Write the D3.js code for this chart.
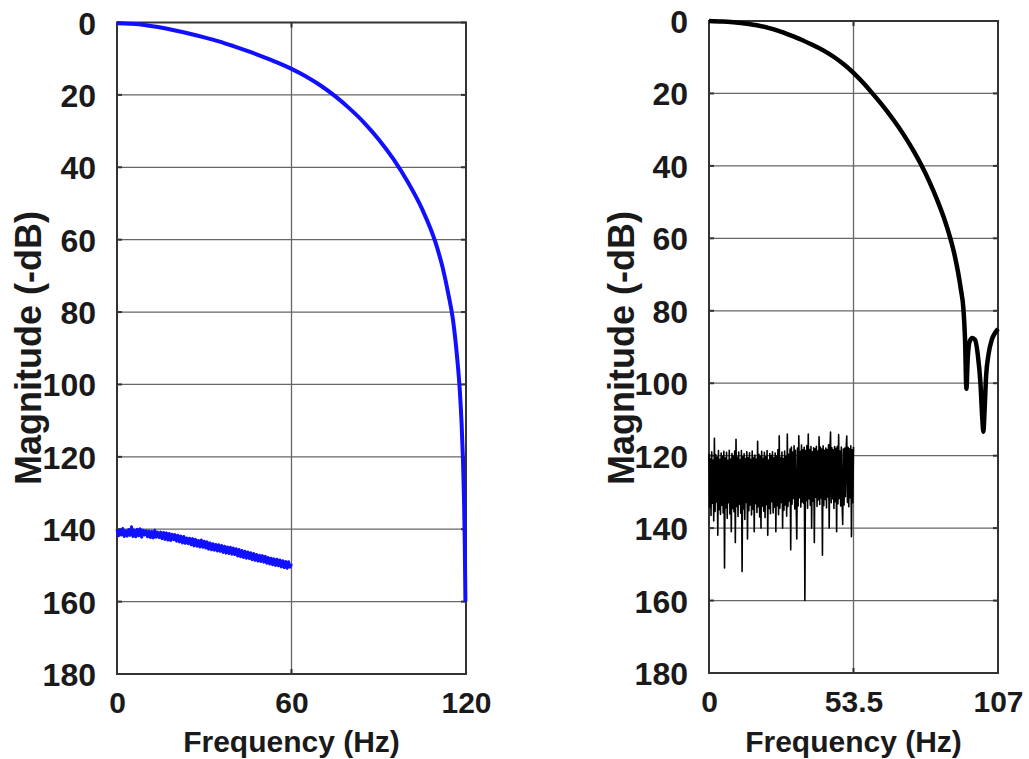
<!DOCTYPE html>
<html>
<head>
<meta charset="utf-8">
<script src="https://cdn.jsdelivr.net/npm/d3@7"></script>
<style>
  body { margin: 0; background: #fff; }
  text { font-family: "Liberation Sans", Arial, sans-serif; font-weight: bold; fill: #1a1a1a; }
</style>
</head>
<body>
<div id="chart"></div>
<script>
// Setting up sizes
const width = 1029;
const height = 759;

// Shared magnitude axis
const yTicks = [0, 20, 40, 60, 80, 100, 120, 140, 160, 180];

// Left panel
const leftXTicks = [0, 60, 120];
const leftXLabels = ["0", "60", "120"];
const leftCurveFreq = [0, 5, 10, 15, 20, 25, 30, 35, 40, 45, 50, 55, 60, 65, 70, 75, 80, 85, 90, 95, 100, 105, 109.4, 112, 114, 115.5, 117, 117.9, 118.5, 118.95, 119.3, 119.6, 119.8];
const leftCurveMag  = [0.2, 0.35, 0.75, 1.4, 2.2, 3.1, 4.1, 5.2, 6.5, 7.9, 9.4, 11.0, 12.8, 14.9, 17.4, 20.35, 23.8, 27.7, 32.3, 37.7, 44.1, 51.7, 60.5, 67.8, 75.3, 82, 93, 102, 111, 120.5, 131, 145, 160];
const leftNoiseStep = 0.5;
const leftNoiseMag = [
  140.0, 141.8, 140.3, 141.6, 139.8, 142.0, 140.4, 141.9, 140.1, 141.7,
  139.3, 142.0, 140.2, 142.1, 140.0, 141.8, 139.9, 142.2, 140.3, 141.6,
  140.4, 142.1, 140.5, 142.3, 140.6, 142.4, 140.3, 142.2, 140.8, 142.3,
  140.8, 142.6, 140.9, 142.8, 141.0, 143.0, 141.2, 143.1, 141.4, 142.9,
  141.5, 143.3, 141.7, 143.5, 141.9, 143.8, 142.0, 143.9, 142.4, 144.0,
  142.5, 144.3, 142.6, 144.6, 142.8, 144.7, 143.1, 144.9, 143.0, 145.0,
  143.3, 145.2, 143.5, 145.5, 143.8, 145.7, 144.0, 145.8, 144.2, 146.0,
  144.3, 146.1, 144.5, 146.4, 144.7, 146.6, 144.9, 146.7, 145.0, 146.9,
  145.2, 147.0, 145.4, 147.4, 145.6, 147.6, 145.9, 147.8, 146.1, 148.0,
  146.3, 148.1, 146.5, 148.4, 146.7, 148.6, 147.0, 148.8, 147.2, 148.9,
  147.3, 149.1, 147.5, 149.4, 147.8, 149.6, 148.0, 149.8, 148.2, 150.0,
  148.3, 150.1, 148.5, 150.4, 148.7, 150.6, 148.9, 150.8, 149.0, 150.5,
  149.6
];

// Right panel
const rightXTicks = [0, 53.5, 107];
const rightXLabels = ["0", "53.5", "107"];
const rightCurveFreq = [0, 5, 10, 14, 17.7, 22, 26, 30, 34, 38, 42.3, 46, 50, 53.5, 57, 60.2, 64, 68, 72, 76, 78.7, 81.5, 84.8, 87, 89.2, 90.8, 92.2, 93.3, 94.2, 94.8, 95.3, 95.8, 96.5, 97.5, 98.5, 99.5, 100.5, 101.2, 101.6, 102, 102.6, 103.5, 104.7, 106, 107];
const rightCurveMag  = [0, 0.15, 0.4, 0.75, 1.15, 1.9, 2.8, 3.9, 5.1, 6.5, 8.1, 9.8, 12, 14.3, 17.0, 19.7, 23.1, 27.0, 31.3, 36.2, 39.9, 44.2, 50.0, 54.4, 59.6, 64.2, 69.3, 74.3, 79.5, 88, 101.5, 93, 88.5, 87.5, 88, 92, 100, 110, 113.4, 108, 98, 92, 88, 86, 85];
const rightNoiseStep = 0.25;
const rightNoiseMag = [
  119.5, 134.2, 120.8, 136.5, 118.9, 133.1, 121.2, 138.0, 115.2, 135.4, 119.7, 132.8, 120.4, 142.0, 118.6, 134.9, 121.0, 136.2, 119.3, 133.7,
  120.2, 135.8, 118.8, 151.0, 120.6, 134.4, 119.1, 137.3, 121.3, 133.0, 118.5, 136.1, 120.9, 141.0, 119.4, 134.6, 120.1, 135.5, 118.7, 144.0,
  115.5, 134.0, 120.4, 136.8, 119.0, 133.4, 121.1, 135.9, 118.6, 152.0, 120.3, 134.7, 119.5, 137.6, 120.8, 132.9, 118.9, 143.0, 120.6, 135.2,
  119.2, 133.6, 121.0, 136.4, 118.7, 134.8, 120.5, 141.0, 119.8, 133.2, 120.9, 135.7, 116.0, 134.1, 119.6, 136.9, 120.2, 140.0, 118.8, 133.9,
  120.7, 135.3, 119.1, 137.1, 120.3, 133.5, 118.6, 142.0, 121.2, 134.6, 119.4, 136.0, 120.0, 132.7, 118.9, 135.8, 120.6, 134.2, 119.3, 141.0,
  120.1, 133.8, 118.4, 136.3, 114.5, 134.5, 120.5, 132.9, 119.0, 140.0, 120.8, 135.1, 118.7, 133.6, 120.2, 136.7, 114.0, 134.0, 119.6, 132.5,
  118.2, 146.0, 117.6, 133.4, 119.0, 131.8, 117.3, 134.7, 118.5, 132.3, 143.0, 117.9, 133.9, 114.5, 131.6, 118.8, 134.2, 117.1, 132.8, 118.4,
  133.1, 117.7, 160.0, 118.6, 132.4, 117.2, 134.5, 114.0, 131.9, 118.3, 133.7, 117.5, 140.0, 118.9, 132.6, 117.8, 144.0, 118.1, 131.5, 117.4,
  134.0, 118.7, 132.2, 114.8, 133.5, 117.6, 131.7, 118.2, 147.5, 117.3, 133.8, 118.5, 132.1, 117.9, 134.4, 118.3, 131.4, 117.0, 140.0, 118.6,
  113.5, 133.0, 117.8, 131.9, 118.4, 134.6, 117.5, 132.7, 118.0, 141.0, 117.4, 133.3, 114.2, 131.8, 118.7, 133.9, 117.6, 132.0, 139.0, 118.2,
  133.6, 117.9, 131.3, 118.5, 114.6, 132.9, 117.7, 134.1, 118.1, 131.6, 117.3, 142.4, 118.4, 133.0, 117.6
];

const svg = d3.select("#chart")
  .append("svg")
  .attr("width", width)
  .attr("height", height);

function drawPanel(p) {
  const x = d3.scaleLinear().domain([0, p.xMax]).range([p.left, p.right]);
  const y = d3.scaleLinear().domain([0, 180]).range([p.top, p.bottom]);
  const g = svg.append("g");

  // Grid
  g.selectAll(".hgrid")
    .data(yTicks.slice(1, -1))
    .join("line")
    .attr("x1", p.left).attr("x2", p.right)
    .attr("y1", d => y(d)).attr("y2", d => y(d))
    .attr("stroke", "#666").attr("stroke-width", 1.3);

  g.selectAll(".vgrid")
    .data(p.xTicks.slice(1, -1))
    .join("line")
    .attr("x1", d => x(d)).attr("x2", d => x(d))
    .attr("y1", p.top).attr("y2", p.bottom)
    .attr("stroke", "#666").attr("stroke-width", 1.3);

  // Inner tick marks
  yTicks.forEach(t => {
    g.append("line").attr("x1", p.left).attr("x2", p.left + 5)
      .attr("y1", y(t)).attr("y2", y(t)).attr("stroke", "#333").attr("stroke-width", 2);
    g.append("line").attr("x1", p.right - 5).attr("x2", p.right)
      .attr("y1", y(t)).attr("y2", y(t)).attr("stroke", "#333").attr("stroke-width", 2);
  });
  p.xTicks.forEach(t => {
    g.append("line").attr("x1", x(t)).attr("x2", x(t))
      .attr("y1", p.top).attr("y2", p.top + 5).attr("stroke", "#333").attr("stroke-width", 2);
    g.append("line").attr("x1", x(t)).attr("x2", x(t))
      .attr("y1", p.bottom - 5).attr("y2", p.bottom).attr("stroke", "#333").attr("stroke-width", 2);
  });

  // Frame
  g.append("rect")
    .attr("x", p.left).attr("y", p.top)
    .attr("width", p.right - p.left).attr("height", p.bottom - p.top)
    .attr("fill", "none").attr("stroke", "#333").attr("stroke-width", 2);

  // Y axis labels
  const yAxis = g.append("g")
    .attr("transform", `translate(${p.left},0)`)
    .call(d3.axisLeft(y).tickValues(yTicks).tickSize(0).tickPadding(21));
  yAxis.select(".domain").remove();
  yAxis.selectAll("text").style("font-size", "32px").attr("dy", "0.36em");

  // X axis labels
  const xAxis = g.append("g")
    .attr("transform", `translate(0,${p.bottom})`)
    .call(d3.axisBottom(x).tickValues(p.xTicks).tickFormat((d, i) => p.xLabels[i]).tickSize(0).tickPadding(18));
  xAxis.select(".domain").remove();
  xAxis.selectAll("text").style("font-size", "30px");

  // Axis titles
  g.append("text")
    .attr("x", (p.left + p.right) / 2)
    .attr("y", 752)
    .attr("text-anchor", "middle")
    .style("font-size", "30px")
    .text("Frequency (Hz)");

  g.append("text")
    .attr("transform", `translate(${p.yTitleX},${348}) rotate(-90)`)
    .attr("text-anchor", "middle")
    .style("font-size", "36px")
    .text("Magnitude (-dB)");

  const line = d3.line().x(d => x(d[0])).y(d => y(d[1]));

  // Noise floor
  const noise = p.noiseMag.map((v, i) => [i * p.noiseStep, v]);
  g.append("path")
    .datum(noise)
    .attr("d", line)
    .attr("fill", "none")
    .attr("stroke", p.color)
    .attr("stroke-width", p.noiseWidth)
    .attr("stroke-linejoin", "round");

  // Response curve
  const curve = p.curveFreq.map((f, i) => [f, p.curveMag[i]]);
  g.append("path")
    .datum(curve)
    .attr("d", d3.line().x(d => x(d[0])).y(d => y(d[1])).curve(d3.curveMonotoneX))
    .attr("fill", "none")
    .attr("stroke", p.color)
    .attr("stroke-width", p.curveWidth)
    .attr("stroke-linejoin", "round");
}

drawPanel({
  left: 117, right: 466, top: 22.5, bottom: 674, xMax: 120,
  xTicks: leftXTicks, xLabels: leftXLabels,
  curveFreq: leftCurveFreq, curveMag: leftCurveMag,
  noiseMag: leftNoiseMag, noiseStep: leftNoiseStep,
  color: "#1010ff", curveWidth: 4, noiseWidth: 3, yTitleX: 41
});

drawPanel({
  left: 709, right: 998, top: 21, bottom: 673, xMax: 107,
  xTicks: rightXTicks, xLabels: rightXLabels,
  curveFreq: rightCurveFreq, curveMag: rightCurveMag,
  noiseMag: rightNoiseMag, noiseStep: rightNoiseStep,
  color: "#000", curveWidth: 4.5, noiseWidth: 1.6, yTitleX: 634
});
</script>
</body>
</html>
